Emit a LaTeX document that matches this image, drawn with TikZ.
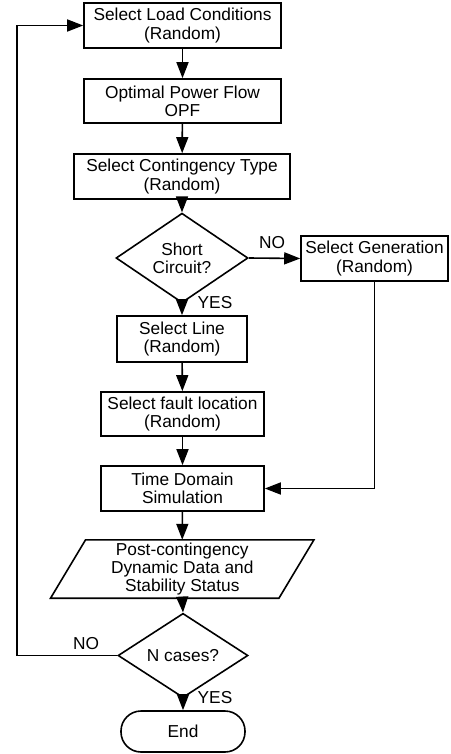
\documentclass[tikz,border=0pt]{standalone}
\usepackage{fontspec}
\setmainfont{Liberation Sans}
\usetikzlibrary{arrows.meta,shapes.geometric}
\begin{document}
\begin{tikzpicture}[x=1pt,y=-1pt,
  every node/.style={font=\fontsize{17.3}{18.3}\selectfont, align=center, inner sep=0pt},
  box/.style={draw, rectangle, line width=1.6pt},
  dec/.style={draw, diamond, line width=1.6pt},
  conn/.style={line width=1.6pt, -{Triangle[length=16pt,width=12pt]}},
  plain/.style={line width=1.6pt}]
\useasboundingbox (0,0) rectangle (450,754);
\node[box, minimum width=197, minimum height=45] (load) at (182.5,25.5) {Select Load Conditions\\(Random)};
\node[box, minimum width=197, minimum height=44] (opf) at (182.5,101) {Optimal Power Flow\\OPF};
\node[box, minimum width=216, minimum height=45] (cont) at (182,176.5) {Select Contingency Type\\(Random)};
\node[dec, minimum width=132, minimum height=70] (sc) at (182,258) {Short\\Circuit?};
\node[box, minimum width=147, minimum height=45] (gen) at (374.5,258.5) {Select Generation\\(Random)};
\node[box, minimum width=130, minimum height=46] (line) at (182,339) {Select Line\\(Random)};
\node[box, minimum width=163, minimum height=44] (fault) at (182.5,414) {Select fault location\\(Random)};
\node[box, minimum width=163, minimum height=45] (tds) at (182.5,488.5) {Time Domain\\Simulation};
\node[minimum width=228, minimum height=58] (post) at (182.25,569) {Post-contingency\\Dynamic Data and\\Stability Status};
\draw[plain] ([xshift=17.5]post.north west) -- ([xshift=17.5]post.north east) -- ([xshift=-17.5]post.south east) -- ([xshift=-17.5]post.south west) -- cycle;
\node[dec, minimum width=130, minimum height=69] (nc) at (183,655.5) {N cases?};
\node[draw, rectangle, rounded corners=20pt, line width=1.6pt, minimum width=124, minimum height=41] (end) at (183,731.5) {End};

\draw[conn] (load) -- (opf);
\draw[conn] (opf) -- (cont);
\draw[conn] (cont) -- (sc);
\draw[conn] (sc.east) -- (gen.west);
\node (no1) at (272,243) {NO};
\draw[conn] (sc.south) -- (line.north);
\node (yes1) at (215,303) {YES};
\draw[conn] (line) -- (fault);
\draw[conn] (fault) -- (tds);
\draw[conn] (gen.south) |- (tds.east);
\draw[conn] (tds) -- (post.north);
\draw[conn] (post.south) -- (nc.north);
\draw[conn] (nc.west) -- ++(-100,0) |- (load.west);
\node (no2) at (86,644) {NO};
\draw[conn] (nc.south) -- (end.north);
\node (yes2) at (215,698) {YES};
\end{tikzpicture}
\end{document}
